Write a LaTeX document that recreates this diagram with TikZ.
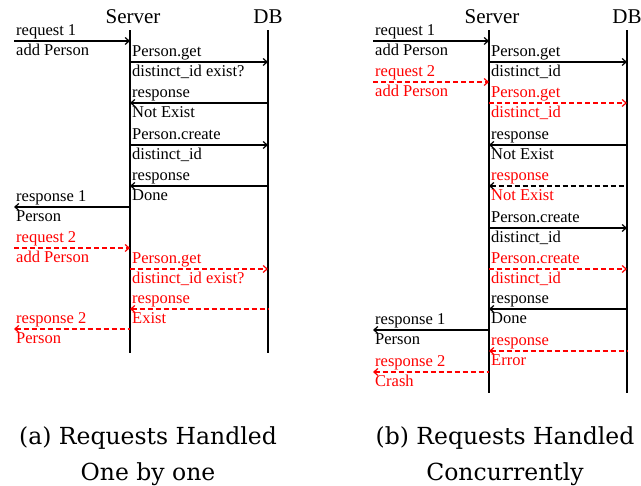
\documentclass[tikz,border=0pt]{standalone}
\usepackage{fontspec}
\usepackage{tikz}
\usetikzlibrary{arrows.meta}
\newfontfamily\diagfont{Liberation Serif}
\newfontfamily\capfont{DejaVu Serif}
\definecolor{reqRed}{RGB}{255, 0, 0}
\tikzset{
    head/.style={
        font=\diagfont\fontsize{21}{24}\selectfont,
        anchor=base,
        inner xsep=0pt,
        inner ysep=6pt
    },
    lifeline/.style={
        line width=1.7pt
    },
    msg/.style={
        line width=1.2pt
    },
    callR/.style={
        msg,
        -{Straight Barb[length=4pt, width=7pt]}
    },
    callL/.style={
        msg,
        {Straight Barb[length=4pt, width=7pt]}-
    },
    waitL/.style={
        callL,
        dash pattern=on 5pt off 3pt
    },
    asyncR/.style={
        callR,
        dash pattern=on 5pt off 3pt,
        draw=reqRed
    },
    asyncL/.style={
        waitL,
        draw=reqRed
    },
    tag/.style={
        font=\diagfont\fontsize{16.5}{18}\selectfont,
        anchor=base west,
        inner sep=0pt,
        xshift=2pt
    },
    uptag/.style={
        tag,
        yshift=5pt
    },
    dntag/.style={
        tag,
        yshift=-14.5pt
    },
    caption/.style={
        font=\capfont\fontsize{23.5}{28}\selectfont,
        anchor=base
    }
}

\begin{document}
\begin{tikzpicture}[x=1pt, y=-1pt]
  \useasboundingbox (0,0) rectangle (641,486);

  % (a) one by one
  \node[head] (srvA) at (133,24) {Server};
  \node[head] (dbA) at (268,24) {DB};
  \coordinate (srvAend) at (130,353);
  \coordinate (dbAend) at (268,353);
  \draw[lifeline] (srvAend |- srvA.south) -- (srvAend);
  \draw[lifeline] (dbAend |- dbA.south) -- (dbAend);

  \foreach \yy/\lx/\rx/\kind/\tc/\up/\dn in {
      41/14/130/callR/black/request 1/add Person,
      62/130/268/callR/black/Person.get/distinct\_id exist?,
      103/130/268/callL/black/response/Not Exist,
      145/130/268/callR/black/Person.create/distinct\_id,
      186/130/268/callL/black/response/Done,
      207/14/130/callL/black/response 1/Person,
      248/14/130/asyncR/reqRed/request 2/add Person,
      269/130/268/asyncR/reqRed/Person.get/distinct\_id exist?,
      309/130/268/asyncL/reqRed/response/Exist,
      329/14/130/asyncL/reqRed/response 2/Person} {
    \coordinate (aL\yy) at (\lx,\yy);
    \coordinate (aR\yy) at (\rx,\yy);
    \draw[\kind] (aL\yy) -- (aR\yy);
    \node[uptag, text=\tc] (aU\yy) at (aL\yy) {\up};
    \node[dntag, text=\tc] (aD\yy) at (aL\yy) {\dn};
  }

  % (b) concurrently
  \node[head] (srvB) at (492,24) {Server};
  \node[head] (dbB) at (627,24) {DB};
  \coordinate (srvBend) at (489,393);
  \coordinate (dbBend) at (627,393);
  \draw[lifeline] (srvBend |- srvB.south) -- (srvBend);
  \draw[lifeline] (dbBend |- dbB.south) -- (dbBend);

  \foreach \yy/\lx/\rx/\kind/\tc/\up/\dn in {
      41/373/489/callR/black/request 1/add Person,
      62/489/627/callR/black/Person.get/distinct\_id,
      82/373/489/asyncR/reqRed/request 2/add Person,
      103/489/627/asyncR/reqRed/Person.get/distinct\_id,
      145/489/627/callL/black/response/Not Exist,
      186/489/627/waitL/reqRed/response/Not Exist,
      228/489/627/callR/black/Person.create/distinct\_id,
      269/489/627/asyncR/reqRed/Person.create/distinct\_id,
      309/489/627/callL/black/response/Done,
      330/373/489/callL/black/response 1/Person,
      351/489/627/asyncL/reqRed/response/Error,
      372/373/489/asyncL/reqRed/response 2/Crash} {
    \coordinate (bL\yy) at (\lx,\yy);
    \coordinate (bR\yy) at (\rx,\yy);
    \draw[\kind] (bL\yy) -- (bR\yy);
    \node[uptag, text=\tc] (bU\yy) at (bL\yy) {\up};
    \node[dntag, text=\tc] (bD\yy) at (bL\yy) {\dn};
  }

  % captions
  \node[caption] (capA1) at (148,445) {(a) Requests Handled};
  \node[caption] (capA2) at (148,481) {One by one};
  \node[caption] (capB1) at (505,445) {(b) Requests Handled};
  \node[caption] (capB2) at (505,481) {Concurrently};
\end{tikzpicture}
\end{document}
